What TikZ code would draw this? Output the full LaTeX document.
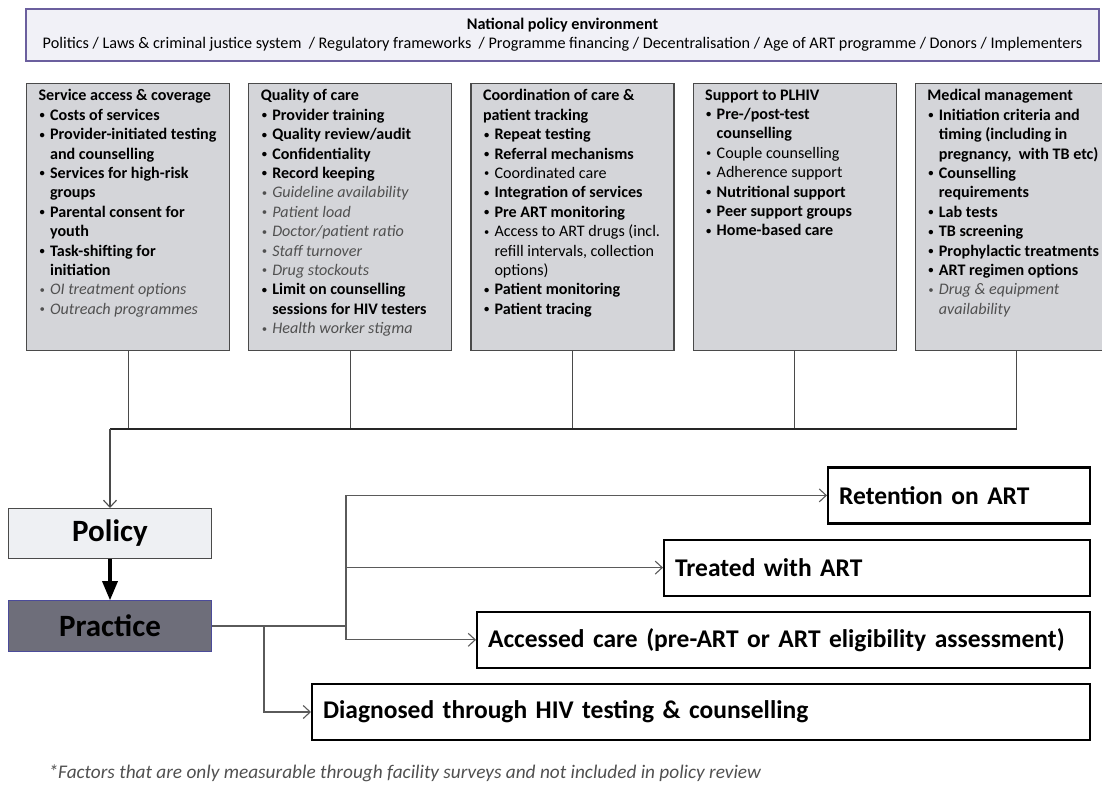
\documentclass[tikz,border=0pt]{standalone}
\usepackage{fontspec}
\setmainfont{Carlito}
\usetikzlibrary{arrows,arrows.meta,positioning}

\definecolor{bannerfill}{HTML}{F1F1F7}
\definecolor{bannerline}{HTML}{6B5F9E}
\definecolor{catfill}{HTML}{D4D5D9}
\definecolor{catline}{HTML}{4A4A4A}
\definecolor{policyfill}{HTML}{EEF0F3}
\definecolor{practicefill}{HTML}{6E6E7A}
\definecolor{practiceline}{HTML}{4B4B9A}
\definecolor{factorgray}{HTML}{505050}
\definecolor{linkgray}{HTML}{5A5A5A}

\newcommand{\bu}{\makebox[11.5pt][l]{\hspace{1pt}\raisebox{0.2ex}{\fontsize{10.5pt}{10pt}\selectfont\textbullet}}}
\newcommand{\cn}{\hspace*{11.5pt}}
\newcommand{\fac}[1]{{\mdseries\itshape\color{factorgray}#1}}
\newcommand{\catbody}[1]{\parbox[c][255pt][t]{179pt}{\raggedright #1}}

\begin{document}
\begin{tikzpicture}[x=1pt, y=-1pt, node distance = 18pt,
  banner/.style = {draw=bannerline, fill=bannerfill, line width=1.3pt, minimum width=1073pt, minimum height=52pt, align=center, font=\fontsize{16.2pt}{19pt}\selectfont},
  catbox/.style = {draw=catline, fill=catfill, line width=1.2pt, inner xsep=12pt, inner ysep=6pt, font=\fontsize{16.1pt}{19.4pt}\selectfont\bfseries},
  levelbox/.style = {draw=#1, line width=1pt, minimum width=203pt, minimum height=50pt, font=\fontsize{31pt}{36pt}\selectfont\bfseries},
  outbox/.style = {draw=black, line width=2.2pt, minimum height=56pt, inner xsep=11pt, align=left, font=\fontsize{25.5pt}{29pt}\selectfont\bfseries},
  feed/.style = {draw=catline, line width=1.1pt},
  link/.style = {draw=linkgray, line width=1.3pt},
  barb/.style = {-{Straight Barb[length=7pt, width=13pt, line width=1.1pt]}}]
\useasboundingbox (0,0) rectangle (1102,784);

% national level
\node[banner] (env) at (562.5,35) {\textbf{National policy environment}\\Politics / Laws \& criminal justice system\ \ / Regulatory frameworks\ \ / Programme financing / Decentralisation / Age of ART programme / Donors / Implementers};

% policy areas
\node[catbox, anchor=north west] (access) at (26,83) {\catbody{Service access \& coverage\\
\bu Costs of services\\
\bu Provider-initiated testing\\
\cn and counselling\\
\bu Services for high-risk\\
\cn groups\\
\bu Parental consent for\\
\cn youth\\
\bu Task-shifting for\\
\cn initiation\\
\fac{\bu OI treatment options}\\
\fac{\bu Outreach programmes}}};
\node[catbox, right = 18pt of access] (quality) {\catbody{Quality of care\\
\bu Provider training\\
\bu Quality review/audit\\
\bu Confidentiality\\
\bu Record keeping\\
\fac{\bu Guideline availability}\\
\fac{\bu Patient load}\\
\fac{\bu Doctor/patient ratio}\\
\fac{\bu Staff turnover}\\
\fac{\bu Drug stockouts}\\
\bu Limit on counselling\\
\cn sessions for HIV testers\\
\fac{\bu Health worker stigma}}};
\node[catbox, right = 18pt of quality] (coord) {\catbody{Coordination of care \&\\
patient tracking\\
\bu Repeat testing\\
\bu Referral mechanisms\\
{\mdseries\bu Coordinated care}\\
\bu Integration of services\\
\bu Pre ART monitoring\\
{\mdseries\bu Access to ART drugs (incl.\\
\cn refill intervals, collection\\
\cn options)}\\
\bu Patient monitoring\\
\bu Patient tracing}};
\node[catbox, right = 18pt of coord] (support) {\catbody{Support to PLHIV\\
\bu Pre-/post-test\\
\cn counselling\\
{\mdseries\bu Couple counselling}\\
{\mdseries\bu Adherence support}\\
\bu Nutritional support\\
\bu Peer support groups\\
\bu Home-based care}};
\node[catbox, right = 18pt of support] (medical) {\catbody{Medical management\\
\bu Initiation criteria and\\
\cn timing (including in\\
\cn pregnancy,\ \ with TB etc)\\
\bu Counselling\\
\cn requirements\\
\bu Lab tests\\
\bu TB screening\\
\bu Prophylactic treatments\\
\bu ART regimen options\\
\fac{\bu Drug \& equipment\\
\cn availability}}};

% policy -> practice
\node[levelbox=catline, fill=policyfill, anchor=north west] (policy) at (8,508) {Policy};
\node[levelbox=practiceline, fill=practicefill, minimum height=51pt, below = 41pt of policy] (practice) {Practice};

% outcomes
\node[outbox, text width=756pt, anchor=west] (diagnosed) at (311,712) {Diagnosed through HIV testing \& counselling};
\node[outbox, text width=591pt, above = 14pt of diagnosed.north east, anchor=south east] (accessed) {Accessed care (pre-ART or ART eligibility assessment)};
\node[outbox, text width=404pt, above = 14pt of accessed.north east, anchor=south east] (treated) {Treated with ART};
\node[outbox, text width=240pt, above = 14pt of treated.north east, anchor=south east] (retention) {Retention on ART};

\node[anchor=west, font=\fontsize{19.3pt}{22pt}\selectfont\itshape, text=factorgray] (note) at (45,773) {*Factors that are only measurable through facility surveys and not included in policy review};

% connectors
\coordinate (rail) at (110,429);
\foreach \b in {access,quality,coord,support,medical}
  \draw[feed] (\b.south) -- (\b.south |- rail);
\draw[draw=black!85, line width=1.8pt] (rail) -- (medical.south |- rail);
\draw[feed, barb] (rail) -- (rail |- policy.north);
\draw[-triangle 45, line width=3.5pt] (policy) -- (practice);

\draw[link] (practice.east) -- ++(134,0) coordinate (hub);
\draw[link, barb] (hub) |- (retention.west);
\draw[link, barb] (hub) |- (treated.west);
\draw[link, barb] (hub) |- (accessed.west);
\path (practice.east) ++(52,0) coordinate (hub2);
\draw[link, barb] (hub2) |- (diagnosed.west);
\end{tikzpicture}
\end{document}
